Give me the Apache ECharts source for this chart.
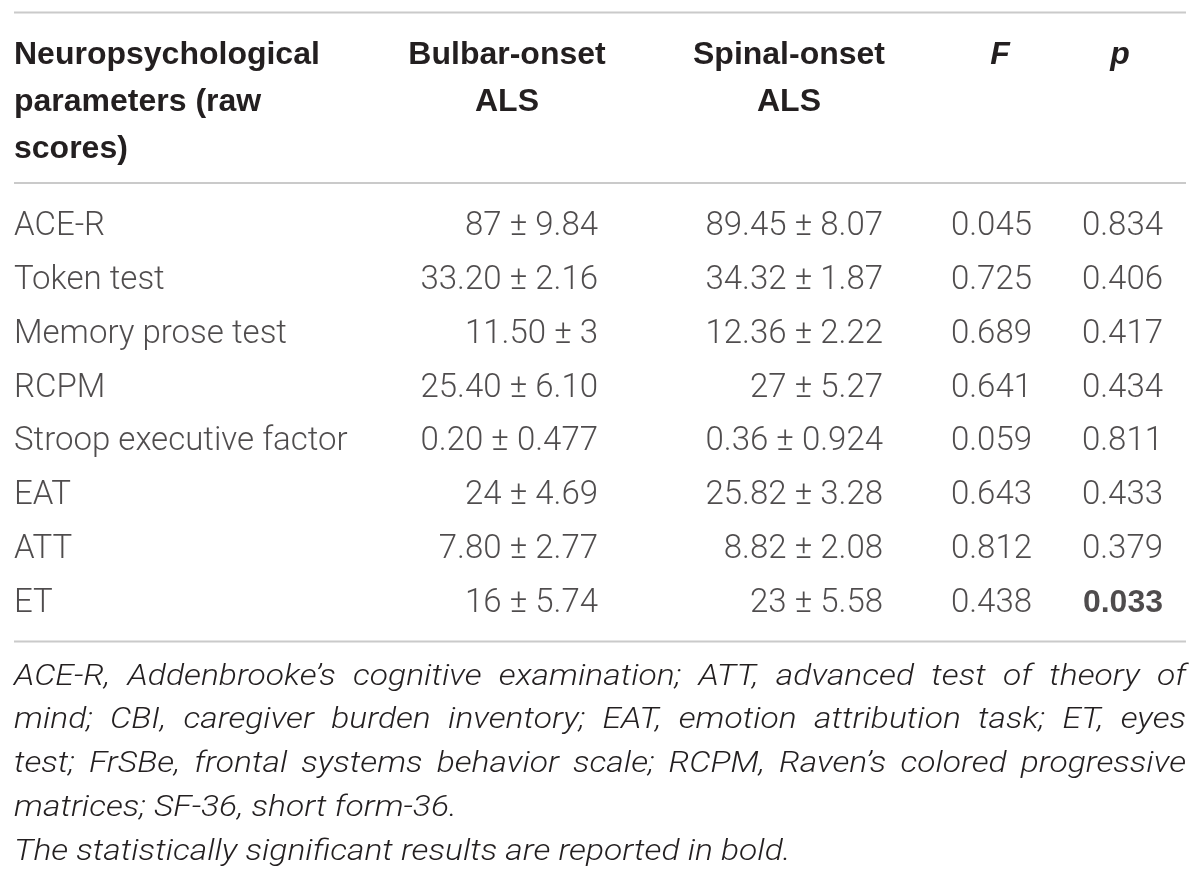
<!DOCTYPE html>
<html lang="en">
<head>
    <meta charset="UTF-8">
    <title>Neuropsychological parameters</title>
    <script src="https://cdn.jsdelivr.net/npm/echarts@6/dist/echarts.min.js"></script>
    <style>
        html, body { margin: 0; padding: 0; background: #fff; }
        #table { width: 1200px; height: 873px; }
    </style>
</head>
<body>
    <div id="table"></div>
    <script>
        // table content
        var parameters = ['ACE-R', 'Token test', 'Memory prose test', 'RCPM',
            'Stroop executive factor', 'EAT', 'ATT', 'ET'];
        var bulbarMean = ['87', '33.20', '11.50', '25.40', '0.20', '24', '7.80', '16'];
        var bulbarSD = ['9.84', '2.16', '3', '6.10', '0.477', '4.69', '2.77', '5.74'];
        var spinalMean = ['89.45', '34.32', '12.36', '27', '0.36', '25.82', '8.82', '23'];
        var spinalSD = ['8.07', '1.87', '2.22', '5.27', '0.924', '3.28', '2.08', '5.58'];
        var fValues = ['0.045', '0.725', '0.689', '0.641', '0.059', '0.643', '0.812', '0.438'];
        var pValues = ['0.834', '0.406', '0.417', '0.434', '0.811', '0.433', '0.379', '0.033'];

        var headerLabels = [
            ['Neuropsychological', 'parameters (raw', 'scores)'],
            ['Bulbar-onset', 'ALS'],
            ['Spinal-onset', 'ALS'],
            ['F'],
            ['p']
        ];
        var footerLines = [
            'ACE-R, Addenbrooke\u2019s cognitive examination; ATT, advanced test of theory of',
            'mind; CBI, caregiver burden inventory; EAT, emotion attribution task; ET, eyes',
            'test; FrSBe, frontal systems behavior scale; RCPM, Raven\u2019s colored progressive',
            'matrices; SF-36, short form-36.',
            'The statistically significant results are reported in bold.'
        ];
        var footerJustify = [true, true, true, false, false];

        // layout
        var tableLeft = 14, tableRight = 1186;
        var colAnchor = [14, 598, 883, 1032, 1163];
        var colAlign = ['left', 'right', 'right', 'right', 'right'];
        var headerCenter = [14, 507, 789, 1000, 1120];
        var headerTop = 55, headerStep = 47;
        var rulesY = [12.5, 183, 641.5];
        var firstRowY = 227, rowStep = 53.8;
        var footerTop = 677, footerStep = 43.8;

        var textColor = '#231f20';
        var bodyFont = 'Roboto';
        var headFont = '"Liberation Sans", Arial, sans-serif';
        var bodySize = 33, headerSize = 32, footerSize = 30;
        var footerStretch = 1.12;

        var columns = [
            parameters,
            bulbarMean.map(function (m, i) { return m + ' \u00b1 ' + bulbarSD[i]; }),
            spinalMean.map(function (m, i) { return m + ' \u00b1 ' + spinalSD[i]; }),
            fValues,
            pValues
        ];

        var tableChart = echarts.init(document.getElementById('table'));

        var series = columns.map(function (col, c) {
            return {
                type: 'scatter',
                symbolSize: 1,
                itemStyle: { color: 'transparent' },
                silent: true,
                label: {
                    show: true,
                    position: 'inside',
                    align: colAlign[c],
                    verticalAlign: 'middle',
                    color: textColor,
                    fontFamily: bodyFont,
                    fontWeight: 300,
                    fontSize: bodySize,
                    formatter: function (p) { return p.data.text; }
                },
                data: col.map(function (txt, i) {
                    var item = { value: [colAnchor[c], parameters[i]], text: txt };
                    // significant p values are bold
                    if (c === 4 && parseFloat(txt) < 0.05) {
                        item.label = { fontWeight: 'bold', fontFamily: headFont, fontSize: bodySize - 1 };
                    }
                    return item;
                })
            };
        });

        var graphics = [];

        rulesY.forEach(function (y) {
            graphics.push({
                type: 'line',
                silent: true,
                shape: { x1: tableLeft, y1: y, x2: tableRight, y2: y },
                style: { stroke: '#cacaca', lineWidth: 2 }
            });
        });

        headerLabels.forEach(function (lines, c) {
            lines.forEach(function (txt, k) {
                graphics.push({
                    type: 'text',
                    silent: true,
                    x: headerCenter[c],
                    y: headerTop + k * headerStep,
                    style: {
                        text: txt,
                        fill: textColor,
                        font: (c >= 3 ? 'italic ' : '') + 'bold ' + headerSize + 'px ' + headFont,
                        textAlign: c === 0 ? 'left' : 'center',
                        align: c === 0 ? 'left' : 'center',
                        textVerticalAlign: 'middle',
                        verticalAlign: 'middle'
                    }
                });
            });
        });

        // footnote, justified like the journal layout
        var footFont = 'italic 300 ' + footerSize + 'px ' + bodyFont;
        var ctx = document.createElement('canvas').getContext('2d');
        ctx.font = footFont;
        var spaceW = ctx.measureText(' ').width * footerStretch;
        footerLines.forEach(function (line, li) {
            var words = line.split(' ');
            var widths = words.map(function (w) { return ctx.measureText(w).width * footerStretch; });
            var total = widths.reduce(function (a, b) { return a + b; }, 0);
            var gap = footerJustify[li] ? (tableRight - tableLeft - total) / (words.length - 1) : spaceW;
            var x = tableLeft;
            words.forEach(function (w, i) {
                graphics.push({
                    type: 'text',
                    silent: true,
                    x: x,
                    y: footerTop + li * footerStep,
                    scaleX: footerStretch,
                    style: {
                        text: w,
                        fill: textColor,
                        font: footFont,
                        textAlign: 'left',
                        align: 'left',
                        textVerticalAlign: 'middle',
                        verticalAlign: 'middle'
                    }
                });
                x += widths[i] + gap;
            });
        });

        var option = {
            animation: false,
            grid: {
                left: 0,
                right: 0,
                top: firstRowY - rowStep / 2,
                height: rowStep * parameters.length
            },
            xAxis: {
                type: 'value',
                min: 0,
                max: 1200,
                show: false
            },
            yAxis: {
                type: 'category',
                inverse: true,
                data: parameters,
                show: false
            },
            graphic: graphics,
            series: series
        };

        tableChart.setOption(option);
    </script>
</body>
</html>
